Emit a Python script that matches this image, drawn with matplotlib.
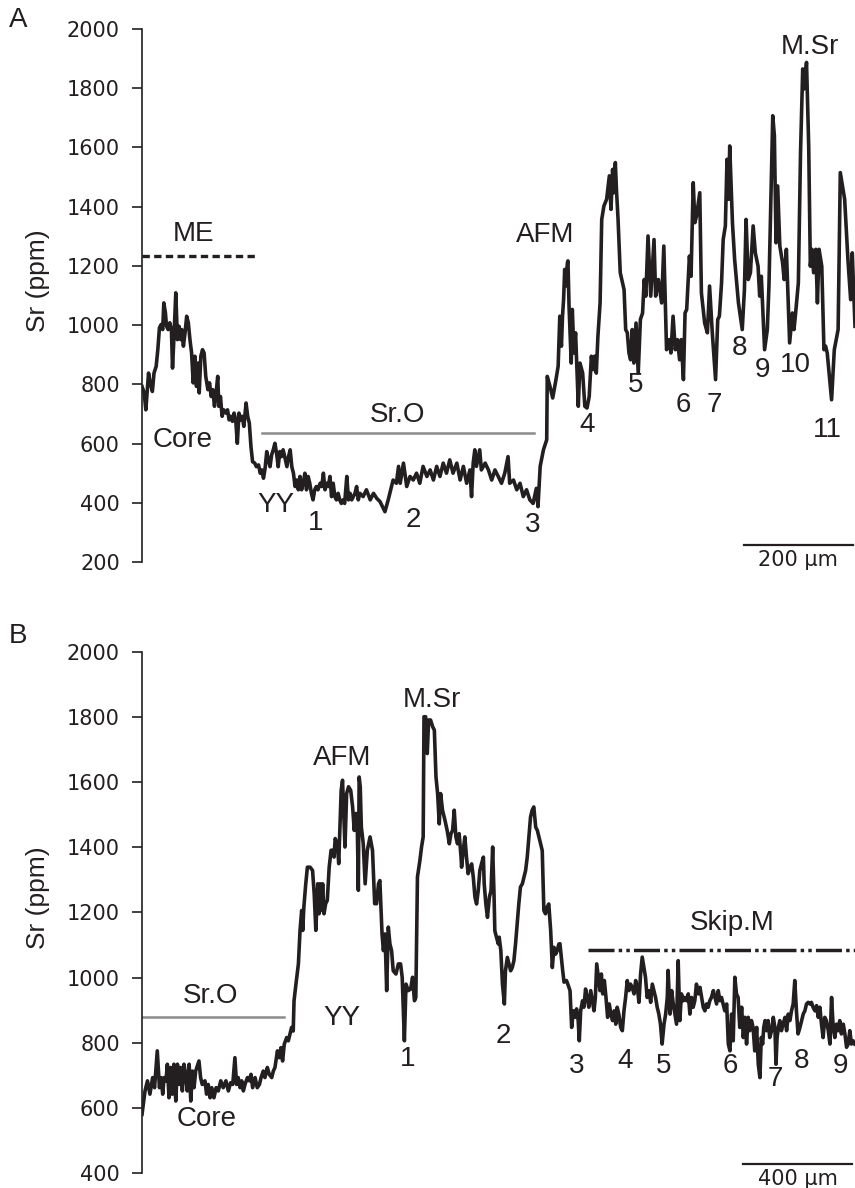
import matplotlib.pyplot as plt

plt.rcParams['font.family'] = ['Liberation Sans', 'DejaVu Sans']

# Panel A transect: distance (um) and Sr (ppm)
a_dist = [0, 4, 7, 12, 15, 19, 22, 26, 29, 32, 35, 38, 40, 43, 45, 48, 51, 54, 56, 59,
          62, 65, 68, 71, 73, 76, 79, 82, 85, 88, 91, 94, 97, 100, 103, 105, 108, 111, 114, 117,
          121, 124, 127, 130, 133, 136, 139, 141, 144, 147, 150, 154, 157, 160, 163, 166, 169, 172, 175, 178,
          181, 184, 187, 191, 194, 197, 200, 203, 207, 210, 214, 217, 220, 223, 226, 229, 232, 235, 238, 241,
          244, 247, 250, 253, 256, 259, 262, 266, 269, 272, 275, 278, 281, 284, 287, 290, 293, 296, 299, 302,
          305, 308, 311, 314, 317, 320, 323, 327, 330, 333, 336, 339, 342, 345, 348, 351, 354, 357, 360, 363,
          366, 369, 372, 376, 379, 382, 385, 388, 391, 394, 397, 400, 406, 412, 419, 425, 431, 437, 446, 452,
          461, 467, 471, 474, 480, 486, 492, 498, 504, 510, 516, 523, 529, 535, 541, 547, 553, 559, 565, 571,
          578, 584, 590, 596, 602, 605, 608, 611, 614, 620, 623, 630, 636, 642, 648, 654, 660, 666, 672, 675,
          682, 688, 694, 700, 706, 712, 718, 724, 727, 731, 737, 743, 744, 749, 754, 760, 764, 767, 770, 772,
          774, 776, 778, 781, 782, 784, 788, 790, 793, 796, 801, 804, 809, 813, 817, 821, 825, 828, 831, 834,
          837, 841, 844, 848, 853, 858, 861, 864, 866, 869, 871, 874, 878, 885, 888, 891, 894, 897, 900, 903,
          907, 911, 915, 919, 922, 925, 929, 934, 940, 943, 948, 954, 958, 963, 968, 971, 975, 979, 983, 987,
          990, 994, 997, 1000, 1005, 1008, 1012, 1015, 1018, 1024, 1027, 1033, 1038, 1042, 1047, 1053, 1057, 1060, 1064, 1067,
          1071, 1074, 1077, 1079, 1084, 1088, 1095, 1102, 1106, 1109, 1113, 1117, 1122, 1126, 1131, 1134, 1137, 1143, 1148, 1151,
          1158, 1161, 1164, 1167, 1171, 1176, 1179, 1183, 1189, 1194, 1197, 1200, 1205, 1209, 1213, 1215, 1220, 1224, 1227, 1230,
          1233, 1237, 1240, 1243, 1248, 1252, 1255, 1258, 1266, 1271, 1278, 1282, 1290, 1296, 1301, 1304, 1309]
a_sr = [793, 771, 714, 838, 805, 776, 838, 861, 917, 991, 1002, 985, 1075, 1041, 996, 985, 1008, 985, 855, 974,
        1109, 951, 996, 951, 985, 929, 974, 1030, 1008, 951, 906, 805, 895, 793, 872, 771, 895, 917, 906, 827,
        782, 805, 759, 782, 726, 771, 827, 726, 759, 692, 714, 703, 714, 680, 692, 675, 703, 680, 601, 703,
        680, 692, 658, 737, 692, 669, 590, 539, 534, 522, 528, 500, 511, 483, 517, 573, 545, 522, 562, 579,
        601, 568, 522, 573, 556, 579, 556, 522, 556, 579, 522, 500, 455, 477, 444, 489, 444, 466, 500, 444,
        489, 466, 432, 410, 444, 455, 444, 466, 455, 500, 444, 466, 455, 489, 421, 466, 421, 410, 432, 410,
        398, 410, 398, 489, 410, 432, 410, 421, 432, 455, 410, 432, 421, 444, 410, 432, 415, 404, 370, 410,
        477, 466, 523, 466, 534, 455, 489, 477, 500, 466, 523, 489, 511, 477, 523, 489, 534, 500, 545, 500,
        534, 477, 523, 466, 511, 421, 534, 579, 523, 579, 511, 534, 511, 477, 511, 489, 466, 500, 556, 466,
        477, 444, 466, 421, 444, 410, 398, 449, 387, 523, 579, 613, 827, 793, 754, 816, 861, 1030, 929, 1030,
        1086, 1188, 1132, 1211, 1217, 1064, 872, 1053, 906, 974, 726, 872, 838, 726, 720, 759, 895, 850, 895, 838,
        962, 1075, 1357, 1402, 1425, 1504, 1391, 1526, 1447, 1549, 1459, 1357, 1177, 1120, 985, 974, 906, 883, 985, 872,
        1007, 838, 1019, 1041, 1154, 1098, 1301, 1098, 1289, 1098, 1154, 1075, 1267, 917, 951, 906, 1030, 917, 951, 883,
        951, 816, 1041, 1053, 1233, 1165, 1481, 1346, 1368, 1447, 1109, 1007, 974, 1132, 974, 816, 1019, 1030, 1143, 1289,
        1335, 1560, 1425, 1605, 1346, 1222, 1075, 985, 1120, 1357, 1154, 1177, 1335, 1244, 1199, 1098, 1165, 917, 985, 1132,
        1707, 1639, 1278, 1470, 1267, 1211, 1154, 1256, 940, 1041, 985, 1041, 1143, 1583, 1865, 1797, 1887, 1605, 1199, 1256,
        1177, 1256, 1075, 1256, 1199, 917, 929, 906, 748, 917, 985, 1515, 1425, 1222, 1086, 1244, 996]

# Panel B transect
b_dist = [0, 11, 20, 29, 39, 46, 56, 64, 70, 76, 81, 88, 93, 99, 105, 111, 117, 124, 130, 136,
          142, 148, 154, 160, 166, 173, 179, 185, 191, 197, 209, 215, 221, 231, 237, 243, 250, 256, 264, 272,
          280, 289, 298, 308, 317, 325, 333, 341, 347, 353, 360, 366, 372, 378, 387, 394, 400, 406, 415, 423,
          431, 437, 445, 451, 460, 467, 476, 482, 488, 497, 504, 510, 516, 522, 531, 537, 543, 549, 555, 558,
          565, 574, 580, 586, 590, 594, 601, 607, 617, 626, 632, 638, 645, 650, 654, 659, 663, 668, 674, 680,
          687, 694, 700, 705, 709, 717, 722, 727, 731, 736, 741, 745, 751, 758, 766, 773, 779, 785, 790, 794,
          797, 801, 805, 812, 819, 827, 837, 846, 854, 861, 868, 873, 881, 886, 892, 898, 904, 910, 916, 922,
          932, 941, 949, 955, 963, 969, 977, 986, 993, 1000, 1005, 1011, 1020, 1026, 1032, 1035, 1041, 1047, 1052, 1059,
          1067, 1073, 1079, 1085, 1091, 1096, 1103, 1112, 1120, 1128, 1134, 1140, 1146, 1152, 1158, 1164, 1171, 1173, 1179, 1185,
          1191, 1197, 1204, 1210, 1216, 1222, 1228, 1234, 1240, 1246, 1253, 1256, 1262, 1268, 1275, 1281, 1287, 1292, 1295, 1301,
          1308, 1311, 1317, 1323, 1330, 1334, 1341, 1347, 1353, 1359, 1365, 1371, 1377, 1383, 1389, 1396, 1402, 1408, 1414, 1420,
          1426, 1432, 1438, 1445, 1451, 1457, 1463, 1469, 1475, 1481, 1487, 1493, 1500, 1506, 1512, 1518, 1524, 1530, 1534, 1544,
          1549, 1558, 1565, 1571, 1577, 1583, 1589, 1595, 1601, 1605, 1610, 1617, 1622, 1628, 1634, 1640, 1647, 1653, 1659, 1664,
          1669, 1675, 1681, 1686, 1691, 1697, 1703, 1709, 1715, 1721, 1727, 1733, 1739, 1744, 1750, 1757, 1763, 1769, 1775, 1781,
          1787, 1793, 1799, 1806, 1812, 1818, 1824, 1830, 1836, 1842, 1848, 1854, 1861, 1867, 1873, 1879, 1885, 1891, 1897, 1903,
          1909, 1916, 1922, 1928, 1931, 1938, 1944, 1950, 1956, 1962, 1968, 1974, 1980, 1987, 1993, 1999, 2005, 2011, 2017, 2023,
          2029, 2035, 2042, 2048, 2054, 2060, 2066, 2072, 2078, 2084, 2090, 2097, 2103, 2109, 2115, 2121, 2127, 2133, 2139, 2146,
          2152, 2158, 2164, 2170, 2176, 2182, 2188, 2194, 2201, 2207, 2213, 2219, 2225, 2231, 2237, 2243, 2249, 2256, 2262, 2268,
          2273, 2278, 2282, 2287, 2292, 2298, 2304, 2311, 2317, 2323, 2327, 2331, 2336, 2341, 2347, 2353, 2360, 2366, 2372, 2378,
          2384, 2390, 2396, 2402, 2408, 2415, 2421, 2427, 2433, 2439, 2445, 2451, 2457, 2463, 2470, 2476, 2482, 2488, 2494, 2500,
          2506, 2512, 2519, 2525, 2531, 2537, 2543, 2549, 2555, 2561, 2567, 2574, 2580, 2586, 2592, 2598, 2604, 2610, 2616]
b_sr = [580, 652, 683, 642, 693, 662, 775, 662, 693, 642, 693, 683, 734, 631, 724, 642, 734, 621, 734, 672,
        724, 652, 734, 703, 652, 734, 621, 713, 662, 713, 744, 693, 672, 683, 642, 672, 631, 662, 631, 662,
        652, 683, 662, 683, 652, 677, 672, 754, 672, 693, 662, 683, 652, 672, 693, 683, 703, 662, 693, 662,
        672, 693, 713, 693, 724, 703, 693, 713, 724, 775, 754, 785, 744, 795, 816, 806, 826, 847, 836, 929,
        980, 1042, 1145, 1206, 1145, 1216, 1288, 1339, 1339, 1329, 1257, 1145, 1288, 1196, 1288, 1206, 1288, 1196, 1227, 1237,
        1339, 1391, 1391, 1370, 1427, 1411, 1350, 1473, 1575, 1606, 1493, 1401, 1565, 1586, 1575, 1524, 1452, 1504, 1473, 1268,
        1616, 1586, 1463, 1411, 1288, 1391, 1432, 1391, 1227, 1227, 1288, 1298, 1134, 1083, 1134, 960, 1155, 1103, 1083, 1021,
        1011, 1042, 1042, 1001, 806, 980, 960, 965, 1001, 929, 939, 1309, 1360, 1401, 1432, 1801, 1801, 1688, 1791, 1791,
        1770, 1760, 1616, 1565, 1472, 1565, 1514, 1483, 1452, 1411, 1442, 1452, 1514, 1432, 1411, 1442, 1370, 1339, 1390, 1432,
        1370, 1319, 1339, 1349, 1308, 1247, 1226, 1267, 1329, 1349, 1370, 1288, 1226, 1185, 1247, 1267, 1401, 1257, 1144, 1124,
        1103, 1124, 1083, 980, 919, 1021, 1062, 1042, 1021, 1031, 1052, 1103, 1165, 1226, 1278, 1288, 1308, 1329, 1370, 1432,
        1493, 1514, 1524, 1462, 1452, 1432, 1411, 1390, 1206, 1196, 1216, 1226, 1144, 1031, 1093, 1072, 1083, 1103, 1104, 1022,
        986, 991, 975, 960, 847, 898, 878, 904, 868, 806, 898, 929, 909, 965, 939, 909, 960, 929, 898, 939,
        1042, 1001, 960, 1011, 950, 991, 939, 878, 919, 888, 868, 898, 857, 909, 888, 847, 837, 898, 939, 991,
        960, 980, 970, 950, 991, 970, 924, 1011, 1063, 1032, 1001, 939, 960, 924, 980, 960, 939, 909, 888, 857,
        796, 857, 888, 939, 1022, 888, 960, 919, 888, 857, 1052, 868, 950, 929, 939, 929, 950, 888, 939, 909,
        929, 980, 950, 970, 939, 909, 898, 919, 909, 929, 939, 960, 939, 919, 960, 929, 939, 919, 898, 919,
        796, 775, 888, 806, 1001, 950, 939, 847, 909, 816, 878, 796, 878, 837, 868, 847, 775, 847, 734, 693,
        816, 796, 847, 868, 837, 868, 816, 837, 878, 847, 734, 816, 847, 868, 837, 857, 878, 837, 888, 868,
        898, 919, 991, 898, 827, 847, 868, 888, 898, 919, 924, 919, 924, 909, 898, 914, 878, 909, 857, 816,
        878, 868, 837, 796, 939, 847, 816, 857, 837, 868, 827, 857, 827, 786, 796, 837, 796, 806, 796]

yticks_a = list(range(200, 2001, 200))
yticks_b = list(range(400, 2001, 200))

# labels placed along each transect: (distance, Sr, text)
a_notes = [(94, 1307, 'ME'), (75, 613, 'Core'), (470, 698, 'Sr.O'), (246, 393, 'YY'),
           (319, 332, '1'), (499, 342, '2'), (717, 325, '3'), (740, 1303, 'AFM'),
           (818, 664, '4'), (907, 799, '5'), (993, 731, '6'), (1051, 731, '7'),
           (1097, 924, '8'), (1140, 850, '9'), (1200, 867, '10'), (1226, 1939, 'M.Sr'),
           (1259, 647, '11')]
b_notes = [(253, 945, 'Sr.O'), (238, 566, 'Core'), (733, 877, 'YY'), (733, 1674, 'AFM'),
           (1064, 1852, 'M.Sr'), (976, 751, '1'), (1325, 822, '2'), (2165, 1169, 'Skip.M'),
           (1596, 729, '3'), (1773, 745, '4'), (1916, 729, '5'), (2158, 729, '6'),
           (2323, 689, '7'), (2422, 745, '8'), (2562, 729, '9')]

ink = '#231f20'
grey = '#8c8c8c'

fig = plt.figure(figsize=(8.55, 11.88), dpi=100)
ax_a = fig.add_axes([0.1661, 0.5269, 0.8339, 0.4487])
ax_b = fig.add_axes([0.1661, 0.01263, 0.8339, 0.4386])


def style(ax, ticks, xmax):
    ax.set_xlim(0, xmax)
    ax.set_ylim(ticks[0], ticks[-1])
    ax.set_yticks(ticks)
    ax.set_xticks([])
    for s in ['top', 'right', 'bottom']:
        ax.spines[s].set_visible(False)
    ax.spines['left'].set_linewidth(1.2)
    ax.spines['left'].set_color(ink)
    ax.tick_params(axis='y', direction='out', length=7, width=1.2, pad=9,
                   labelsize=15, labelcolor=ink, color=ink)
    for lab in ax.get_yticklabels():
        lab.set_family('DejaVu Sans')
    ax.patch.set_visible(False)


style(ax_a, yticks_a, 1309)
style(ax_b, yticks_b, 2617)

ax_a.plot(a_dist, a_sr, color=ink, lw=2.6)
ax_b.plot(b_dist, b_sr, color=ink, lw=2.6)

# reference lines
ax_a.plot([0, 210], [1233, 1233], color=ink, lw=2.4, ls=(0, (2.2, 1.3)))
ax_a.plot([220, 720], [636, 636], color=grey, lw=1.8)
ax_b.plot([0, 521], [878, 878], color=grey, lw=1.8)
ax_b.plot([1637, 2617], [1086, 1086], color=ink, lw=2.5,
          ls=(0, (7.5, 1.2, 1, 1.2, 1, 1.2)))

for x, y, s in a_notes:
    ax_a.text(x, y, s, ha='center', va='center', fontsize=20, color=ink)
for x, y, s in b_notes:
    ax_b.text(x, y, s, ha='center', va='center', fontsize=20, color=ink)

# scale bars
ax_a.plot([1105, 1305], [258, 258], color=ink, lw=1.6, clip_on=False)
ax_a.text(1205, 207, '200 µm', ha='center', va='center', fontsize=15,
          family='DejaVu Sans', color=ink, clip_on=False)
ax_b.plot([2206, 2606], [428, 428], color=ink, lw=1.6, clip_on=False)
ax_b.text(2406, 381, '400 µm', ha='center', va='center', fontsize=15,
          family='DejaVu Sans', color=ink, clip_on=False)

fig.text(18 / 855, 1 - 20 / 1188, 'A', fontsize=20, ha='center', va='center', color=ink)
fig.text(18 / 855, 1 - 636 / 1188, 'B', fontsize=20, ha='center', va='center', color=ink)
fig.text(38 / 855, 1 - 281 / 1188, 'Sr (ppm)', rotation=90, fontsize=19,
         ha='center', va='center', color=ink)
fig.text(38 / 855, 1 - 898 / 1188, 'Sr (ppm)', rotation=90, fontsize=19,
         ha='center', va='center', color=ink)

fig.savefig('out.png', dpi=100)
